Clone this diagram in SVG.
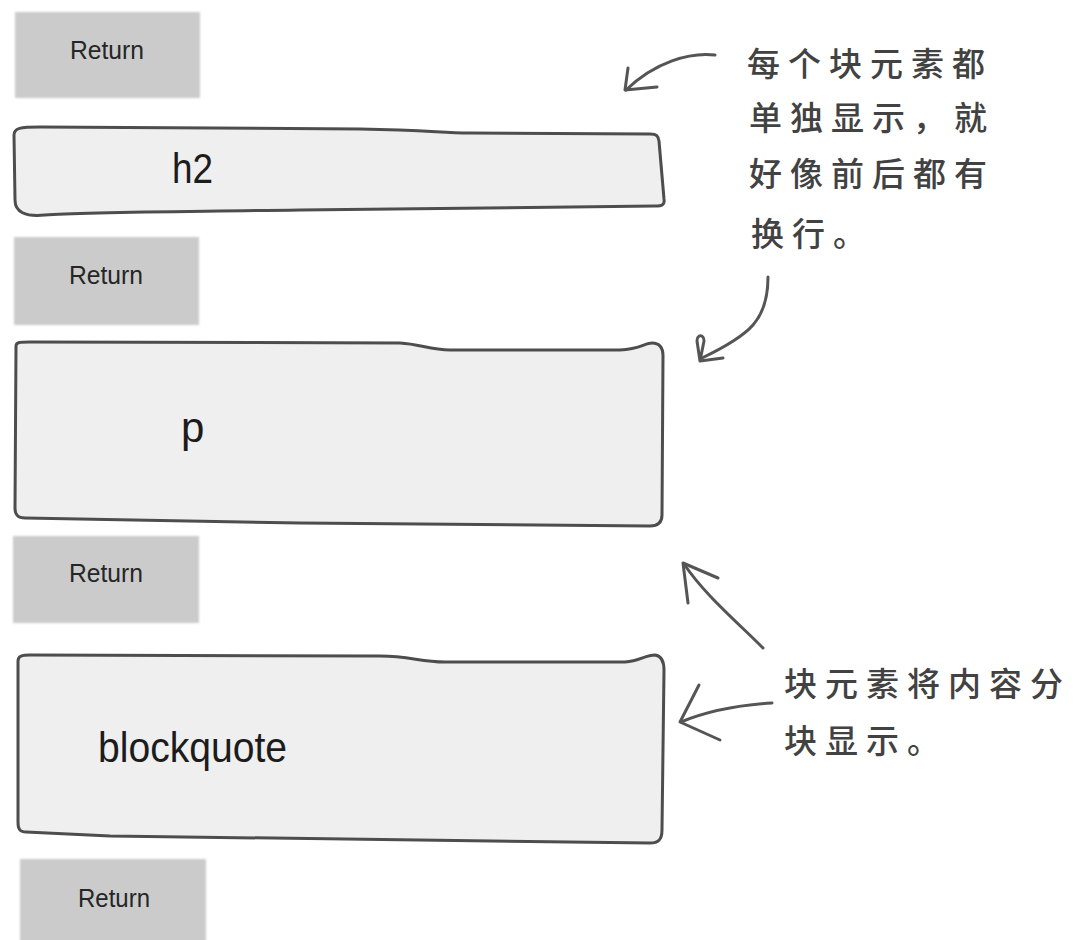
<svg xmlns="http://www.w3.org/2000/svg" width="1082" height="940" viewBox="0 0 1082 940">
<defs>
<filter id="soft" x="-5%" y="-5%" width="110%" height="110%"><feGaussianBlur stdDeviation="1.2"/></filter>
</defs>
<style>
.ret{fill:#cbcbcb;filter:url(#soft)}
.rett{font-family:"Liberation Sans",Arial,sans-serif;font-size:25px;fill:#262626}
.blk{fill:#efefef;stroke:#4d4d4d;stroke-width:3;stroke-linejoin:round}
.blkt{font-family:"Liberation Sans",Arial,sans-serif;font-size:42px;fill:#1c1c1c}
.note{font-family:"Noto Sans CJK SC",sans-serif;font-size:33px;font-weight:500;letter-spacing:8px;fill:#424242}
.arr{fill:none;stroke:#555;stroke-width:3;stroke-linecap:round;stroke-linejoin:round}
</style>
<rect width="1082" height="940" fill="#ffffff"/>

<g id="return1">
<rect class="ret" x="15" y="12" width="185" height="86"/>
<text class="rett" x="70" y="59" textLength="74" lengthAdjust="spacingAndGlyphs">Return</text>
</g>

<g id="h2">
<path class="blk" d="M14,135 C14,128 20,127 40,127 L360,129 C430,130 440,133 470,133 L650,134 C657,134 658,136 659,141 L664,199 C665,205 662,206 655,206 L300,210 C150,212 80,212 45,215 C25,217 15,212 15,200 Z"/>
<text class="blkt" x="172" y="183" textLength="41" lengthAdjust="spacingAndGlyphs">h2</text>
</g>

<g id="return2">
<rect class="ret" x="14" y="237" width="185" height="88"/>
<text class="rett" x="69" y="284" textLength="74" lengthAdjust="spacingAndGlyphs">Return</text>
</g>

<g id="p">
<path class="blk" d="M16,346 C16,342 20,342 30,342 L400,343 C420,344 430,350 450,350 L620,350 C640,349 645,343 652,343 C660,343 663,348 663,356 L662,515 C662,522 658,526 650,526 L300,523 L25,518 C17,518 15,514 15,508 Z"/>
<text class="blkt" x="181" y="442" font-size="40">p</text>
</g>

<g id="return3">
<rect class="ret" x="13" y="536" width="186" height="87"/>
<text class="rett" x="69" y="582" textLength="74" lengthAdjust="spacingAndGlyphs">Return</text>
</g>

<g id="blockquote">
<path class="blk" d="M18,661 C18,656 22,655 30,655 L380,656 C410,656 420,662 445,662 L625,662 C640,661 645,655 655,655 C662,656 664,662 664,670 L662,830 C662,840 658,843 650,843 L110,836 L26,832 C19,832 18,828 18,822 Z"/>
<text class="blkt" x="98" y="762" textLength="189" lengthAdjust="spacingAndGlyphs">blockquote</text>
</g>

<g id="return4">
<rect class="ret" x="20" y="859" width="186" height="84"/>
<text class="rett" x="78" y="907" textLength="72" lengthAdjust="spacingAndGlyphs">Return</text>
</g>

<g id="note1">
<text class="note" x="747" y="76">每个块元素都</text>
<text class="note" x="749" y="130">单独显示，就</text>
<text class="note" x="749" y="186">好像前后都有</text>
<text class="note" x="751" y="246">换行。</text>
</g>

<g id="note2">
<text class="note" x="784" y="696">块元素将内容分</text>
<text class="note" x="784" y="753">块显示。</text>
</g>

<g id="connectors">
<path class="arr" d="M715,55 C690,52 655,62 626,90"/>
<path class="arr" d="M628,68 L625,90 L657,87"/>
<path class="arr" d="M768,277 C768,320 750,335 702,358"/>
<path class="arr" d="M700,361 L697,341 C697,334 704,334 704,341 L700,361 L723,358"/>
<path class="arr" d="M763,648 C735,620 705,595 684,564"/>
<path class="arr" d="M688,603 L683,563 L718,578"/>
<path class="arr" d="M772,703 C740,705 710,710 681,722"/>
<path class="arr" d="M699,685 L680,722 L720,740"/>
</g>
</svg>
